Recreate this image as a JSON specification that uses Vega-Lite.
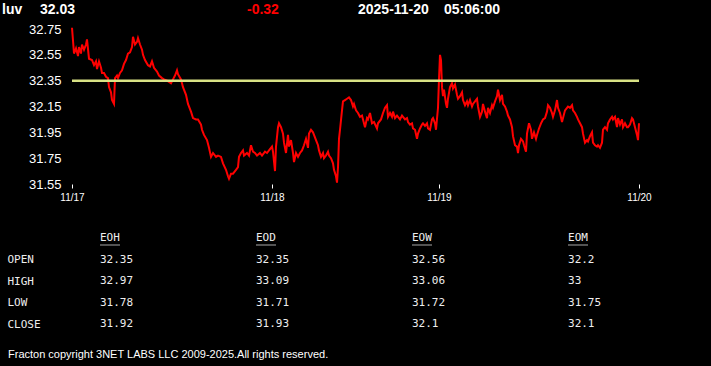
{
  "$schema": "https://vega.github.io/schema/vega-lite/v6.json",
  "background": "#000000",
  "padding": 0,
  "spacing": 11,
  "bounds": "flush",
  "config": {
    "view": {"stroke": null},
    "font": "Liberation Sans"
  },
  "datasets": {
    "header": [
      {"slot": 0, "text": "luv"},
      {"slot": 1, "text": "32.03"},
      {"slot": 2, "text": "-0.32"},
      {"slot": 3, "text": "2025-11-20"},
      {"slot": 4, "text": "05:06:00"}
    ],
    "prices": [
      {"i":0,"p":32.76},{"i":2,"p":32.56},{"i":4,"p":32.60},{"i":6,"p":32.54},{"i":7,"p":32.61},{"i":9,"p":32.56},{"i":10,"p":32.63},{"i":12,"p":32.59},{"i":14,"p":32.63},{"i":15,"p":32.67},
      {"i":17,"p":32.52},{"i":20,"p":32.51},{"i":22,"p":32.47},{"i":24,"p":32.50},{"i":25,"p":32.44},{"i":27,"p":32.50},{"i":29,"p":32.45},{"i":30,"p":32.41},{"i":32,"p":32.41},{"i":34,"p":32.38},
      {"i":36,"p":32.37},{"i":37,"p":32.30},{"i":39,"p":32.26},{"i":40,"p":32.20},{"i":42,"p":32.17},{"i":43,"p":32.37},{"i":45,"p":32.39},{"i":46,"p":32.37},{"i":48,"p":32.41},{"i":50,"p":32.43},
      {"i":52,"p":32.48},{"i":54,"p":32.51},{"i":56,"p":32.56},{"i":58,"p":32.57},{"i":60,"p":32.61},{"i":61,"p":32.69},{"i":63,"p":32.63},{"i":65,"p":32.65},{"i":66,"p":32.68},{"i":68,"p":32.63},
      {"i":70,"p":32.59},{"i":71,"p":32.55},{"i":73,"p":32.51},{"i":76,"p":32.47},{"i":78,"p":32.46},{"i":80,"p":32.50},{"i":82,"p":32.45},{"i":85,"p":32.42},{"i":87,"p":32.39},{"i":90,"p":32.37},
      {"i":92,"p":32.36},{"i":95,"p":32.35},{"i":97,"p":32.34},{"i":99,"p":32.33},{"i":101,"p":32.36},{"i":103,"p":32.39},{"i":105,"p":32.43},{"i":106,"p":32.40},{"i":109,"p":32.36},{"i":111,"p":32.30},
      {"i":114,"p":32.24},{"i":116,"p":32.17},{"i":119,"p":32.11},{"i":121,"p":32.06},{"i":124,"p":32.05},{"i":126,"p":32.05},{"i":129,"p":32.01},{"i":130,"p":31.97},{"i":132,"p":31.93},{"i":135,"p":31.89},
      {"i":137,"p":31.83},{"i":139,"p":31.76},{"i":141,"p":31.79},{"i":144,"p":31.76},{"i":146,"p":31.77},{"i":149,"p":31.76},{"i":151,"p":31.71},{"i":154,"p":31.66},{"i":156,"p":31.61},{"i":157,"p":31.59},
      {"i":159,"p":31.63},{"i":161,"p":31.63},{"i":164,"p":31.66},{"i":166,"p":31.68},{"i":167,"p":31.76},{"i":169,"p":31.79},{"i":171,"p":31.81},{"i":172,"p":31.77},{"i":175,"p":31.79},{"i":177,"p":31.77},
      {"i":179,"p":31.85},{"i":181,"p":31.80},{"i":183,"p":31.79},{"i":185,"p":31.77},{"i":188,"p":31.79},{"i":190,"p":31.77},{"i":193,"p":31.80},{"i":195,"p":31.79},{"i":197,"p":31.81},{"i":200,"p":31.84},
      {"i":201,"p":31.80},{"i":203,"p":31.65},{"i":204,"p":31.84},{"i":206,"p":31.99},{"i":207,"p":32.02},{"i":209,"p":31.99},{"i":211,"p":31.94},{"i":212,"p":31.87},{"i":214,"p":31.79},{"i":216,"p":31.93},
      {"i":217,"p":31.84},{"i":219,"p":31.89},{"i":221,"p":31.79},{"i":222,"p":31.72},{"i":224,"p":31.79},{"i":226,"p":31.76},{"i":228,"p":31.79},{"i":230,"p":31.81},{"i":232,"p":31.85},{"i":234,"p":31.90},
      {"i":236,"p":31.83},{"i":237,"p":31.94},{"i":239,"p":31.97},{"i":241,"p":31.95},{"i":242,"p":31.93},{"i":244,"p":31.89},{"i":246,"p":31.85},{"i":247,"p":31.81},{"i":249,"p":31.76},{"i":251,"p":31.79},
      {"i":252,"p":31.75},{"i":254,"p":31.77},{"i":256,"p":31.80},{"i":257,"p":31.77},{"i":259,"p":31.75},{"i":261,"p":31.71},{"i":262,"p":31.66},{"i":264,"p":31.61},{"i":265,"p":31.56},{"i":266,"p":31.68},
      {"i":267,"p":31.90},{"i":268,"p":31.97},{"i":270,"p":32.12},{"i":271,"p":32.19},{"i":273,"p":32.20},{"i":275,"p":32.21},{"i":277,"p":32.22},{"i":279,"p":32.20},{"i":281,"p":32.15},{"i":282,"p":32.17},
      {"i":284,"p":32.12},{"i":286,"p":32.10},{"i":288,"p":32.07},{"i":290,"p":32.08},{"i":291,"p":32.05},{"i":293,"p":31.99},{"i":295,"p":32.06},{"i":296,"p":32.05},{"i":298,"p":32.10},{"i":300,"p":32.02},
      {"i":302,"p":32.03},{"i":305,"p":31.98},{"i":306,"p":32.02},{"i":309,"p":32.05},{"i":311,"p":32.10},{"i":313,"p":32.14},{"i":315,"p":32.16},{"i":316,"p":32.07},{"i":318,"p":32.10},{"i":320,"p":32.07},
      {"i":321,"p":32.11},{"i":323,"p":32.06},{"i":325,"p":32.08},{"i":326,"p":32.07},{"i":328,"p":32.05},{"i":330,"p":32.08},{"i":331,"p":32.07},{"i":333,"p":32.05},{"i":335,"p":32.06},{"i":336,"p":32.03},
      {"i":338,"p":32.01},{"i":340,"p":32.02},{"i":341,"p":31.98},{"i":343,"p":31.97},{"i":345,"p":31.90},{"i":346,"p":31.94},{"i":348,"p":31.98},{"i":350,"p":32.01},{"i":351,"p":32.02},{"i":353,"p":32.00},
      {"i":355,"p":32.02},{"i":356,"p":31.98},{"i":358,"p":31.97},{"i":360,"p":32.05},{"i":361,"p":32.06},{"i":363,"p":32.02},{"i":364,"p":31.97},{"i":366,"p":32.14},{"i":367,"p":32.36},{"i":368,"p":32.55},
      {"i":369,"p":32.51},{"i":370,"p":32.30},{"i":371,"p":32.23},{"i":372,"p":32.28},{"i":374,"p":32.17},{"i":375,"p":32.14},{"i":376,"p":32.21},{"i":378,"p":32.30},{"i":380,"p":32.33},{"i":381,"p":32.29},
      {"i":383,"p":32.32},{"i":385,"p":32.24},{"i":386,"p":32.21},{"i":388,"p":32.23},{"i":390,"p":32.26},{"i":391,"p":32.20},{"i":393,"p":32.16},{"i":395,"p":32.19},{"i":396,"p":32.16},{"i":398,"p":32.20},
      {"i":400,"p":32.15},{"i":401,"p":32.17},{"i":403,"p":32.19},{"i":405,"p":32.21},{"i":406,"p":32.15},{"i":408,"p":32.07},{"i":410,"p":32.11},{"i":411,"p":32.17},{"i":413,"p":32.11},{"i":415,"p":32.06},
      {"i":416,"p":32.14},{"i":418,"p":32.10},{"i":420,"p":32.16},{"i":421,"p":32.14},{"i":423,"p":32.19},{"i":425,"p":32.23},{"i":426,"p":32.28},{"i":428,"p":32.20},{"i":430,"p":32.24},{"i":431,"p":32.17},
      {"i":433,"p":32.15},{"i":435,"p":32.11},{"i":436,"p":32.08},{"i":438,"p":32.05},{"i":440,"p":31.99},{"i":441,"p":31.92},{"i":443,"p":31.85},{"i":445,"p":31.84},{"i":446,"p":31.79},{"i":447,"p":31.85},
      {"i":449,"p":31.90},{"i":451,"p":31.88},{"i":452,"p":31.85},{"i":454,"p":31.80},{"i":455,"p":31.94},{"i":457,"p":32.02},{"i":459,"p":31.97},{"i":460,"p":31.90},{"i":462,"p":31.95},{"i":464,"p":31.90},
      {"i":465,"p":31.93},{"i":467,"p":31.98},{"i":469,"p":32.02},{"i":471,"p":32.05},{"i":473,"p":32.06},{"i":475,"p":32.11},{"i":476,"p":32.16},{"i":478,"p":32.14},{"i":480,"p":32.10},{"i":481,"p":32.07},
      {"i":483,"p":32.12},{"i":485,"p":32.20},{"i":486,"p":32.14},{"i":488,"p":32.10},{"i":490,"p":32.03},{"i":491,"p":32.06},{"i":493,"p":32.12},{"i":495,"p":32.14},{"i":496,"p":32.15},{"i":498,"p":32.14},
      {"i":500,"p":32.16},{"i":501,"p":32.12},{"i":503,"p":32.10},{"i":505,"p":32.07},{"i":506,"p":32.05},{"i":508,"p":32.02},{"i":510,"p":31.99},{"i":511,"p":31.94},{"i":513,"p":31.87},{"i":515,"p":31.89},
      {"i":516,"p":31.88},{"i":518,"p":31.92},{"i":520,"p":31.95},{"i":521,"p":31.87},{"i":523,"p":31.85},{"i":525,"p":31.84},{"i":526,"p":31.85},{"i":528,"p":31.83},{"i":530,"p":31.87},{"i":531,"p":31.97},
      {"i":533,"p":31.99},{"i":535,"p":31.97},{"i":536,"p":32.02},{"i":538,"p":32.05},{"i":540,"p":32.07},{"i":541,"p":32.05},{"i":543,"p":32.07},{"i":545,"p":31.99},{"i":546,"p":32.06},{"i":548,"p":32.01},
      {"i":550,"p":32.05},{"i":551,"p":31.99},{"i":553,"p":32.02},{"i":555,"p":31.99},{"i":556,"p":31.99},{"i":558,"p":32.01},{"i":560,"p":32.06},{"i":561,"p":32.05},{"i":563,"p":31.99},{"i":565,"p":31.93},
      {"i":566,"p":31.89},{"i":567,"p":32.02}
    ],
    "ref": [{"from": 0, "to": 567, "p": 32.35}],
    "table": [
      {"row": "HEAD", "col": "EOH", "value": "EOH"},
      {"row": "HEAD", "col": "EOD", "value": "EOD"},
      {"row": "HEAD", "col": "EOW", "value": "EOW"},
      {"row": "HEAD", "col": "EOM", "value": "EOM"},
      {"row": "OPEN", "col": "EOH", "value": "32.35"},
      {"row": "OPEN", "col": "EOD", "value": "32.35"},
      {"row": "OPEN", "col": "EOW", "value": "32.56"},
      {"row": "OPEN", "col": "EOM", "value": "32.2"},
      {"row": "HIGH", "col": "EOH", "value": "32.97"},
      {"row": "HIGH", "col": "EOD", "value": "33.09"},
      {"row": "HIGH", "col": "EOW", "value": "33.06"},
      {"row": "HIGH", "col": "EOM", "value": "33"},
      {"row": "LOW", "col": "EOH", "value": "31.78"},
      {"row": "LOW", "col": "EOD", "value": "31.71"},
      {"row": "LOW", "col": "EOW", "value": "31.72"},
      {"row": "LOW", "col": "EOM", "value": "31.75"},
      {"row": "CLOSE", "col": "EOH", "value": "31.92"},
      {"row": "CLOSE", "col": "EOD", "value": "31.93"},
      {"row": "CLOSE", "col": "EOW", "value": "32.1"},
      {"row": "CLOSE", "col": "EOM", "value": "32.1"}
    ],
    "footer": [{"text": "Fracton copyright 3NET LABS LLC 2009-2025.All rights reserved."}]
  },
  "vconcat": [
    {
      "width": 711,
      "height": 18,
      "data": {"name": "header"},
      "mark": {"type": "text", "align": "left", "baseline": "alphabetic", "dy": 4.5, "font": "Liberation Sans", "fontSize": 14, "fontWeight": "bold"},
      "encoding": {
        "x": {"field": "slot", "type": "quantitative", "axis": null,
              "scale": {"domain": [0, 1, 2, 3, 4], "range": [2, 40, 247, 358, 444], "nice": false, "zero": false}},
        "text": {"field": "text"},
        "color": {"condition": {"test": "datum.slot === 2", "value": "#ff0000"}, "value": "#ffffff"}
      }
    },
    {
      "width": 711,
      "height": 155,
      "layer": [
        {
          "data": {"name": "prices"},
          "mark": {"type": "line", "color": "#ff0000", "strokeWidth": 2},
          "encoding": {
            "x": {"field": "i", "type": "quantitative",
                  "scale": {"domain": [-72, 639], "nice": false, "zero": false},
                  "axis": {"values": [0, 200, 367, 567], "tickCount": 20,
                           "labelExpr": "datum.value == 0 ? '11/17' : datum.value == 200 ? '11/18' : datum.value == 367 ? '11/19' : '11/20'",
                           "title": null, "grid": false, "domain": false, "ticks": true, "tickSize": 4, "tickColor": "#ffffff", "tickWidth": 1,
                           "labelColor": "#ffffff", "labelFont": "Liberation Sans", "labelFontSize": 10, "labelPadding": 4, "labelFlush": false, "labelOverlap": false}},
            "y": {"field": "p", "type": "quantitative",
                  "scale": {"domain": [31.55, 32.75], "nice": false, "zero": false},
                  "axis": {"values": [31.55, 31.75, 31.95, 32.15, 32.35, 32.55, 32.75], "tickCount": 10, "format": ".2f",
                           "orient": "left", "offset": -62, "title": null, "grid": false, "domain": false, "ticks": false, "tickSize": 0,
                           "labelPadding": 1, "labelColor": "#ffffff", "labelFont": "Liberation Sans", "labelFontSize": 13, "labelFlush": false, "labelOverlap": false}}
          }
        },
        {
          "data": {"name": "ref"},
          "mark": {"type": "rule", "color": "#d9e285", "strokeWidth": 2.5},
          "encoding": {
            "x": {"field": "from", "type": "quantitative"},
            "x2": {"field": "to"},
            "y": {"field": "p", "type": "quantitative"}
          }
        }
      ]
    },
    {
      "width": 668,
      "height": 129,
      "data": {"name": "table"},
      "encoding": {
        "x": {"field": "col", "type": "nominal", "axis": null,
              "scale": {"type": "point", "domain": ["EOH", "EOD", "EOW", "EOM"], "padding": 0.641}},
        "y": {"field": "row", "type": "nominal",
              "scale": {"type": "point", "domain": ["HEAD", "OPEN", "HIGH", "LOW", "CLOSE"], "padding": 1, "align": 1},
              "axis": {"title": null, "domain": false, "ticks": false, "tickSize": 0, "offset": -7, "labelPadding": 0,
                       "labelAlign": "left", "labelBaseline": "middle", "labelExpr": "datum.value == 'HEAD' ? '' : datum.value",
                       "labelFont": "DejaVu Sans Mono", "labelFontSize": 11, "labelColor": "#eeeeee", "grid": false}}
      },
      "layer": [
        {
          "mark": {"type": "text", "align": "left", "baseline": "middle", "font": "DejaVu Sans Mono", "fontSize": 11, "color": "#eeeeee"},
          "encoding": {"text": {"field": "value"}}
        },
        {
          "transform": [{"filter": "datum.row === 'HEAD'"}],
          "mark": {"type": "tick", "orient": "horizontal", "size": 20, "thickness": 1, "xOffset": 10, "yOffset": 7, "color": "#eeeeee"}
        }
      ]
    },
    {
      "width": 16,
      "height": 40,
      "data": {"name": "footer"},
      "mark": {"type": "text", "align": "left", "baseline": "middle", "font": "Liberation Sans", "fontSize": 11, "color": "#ffffff"},
      "encoding": {"text": {"field": "text"}}
    }
  ]
}
